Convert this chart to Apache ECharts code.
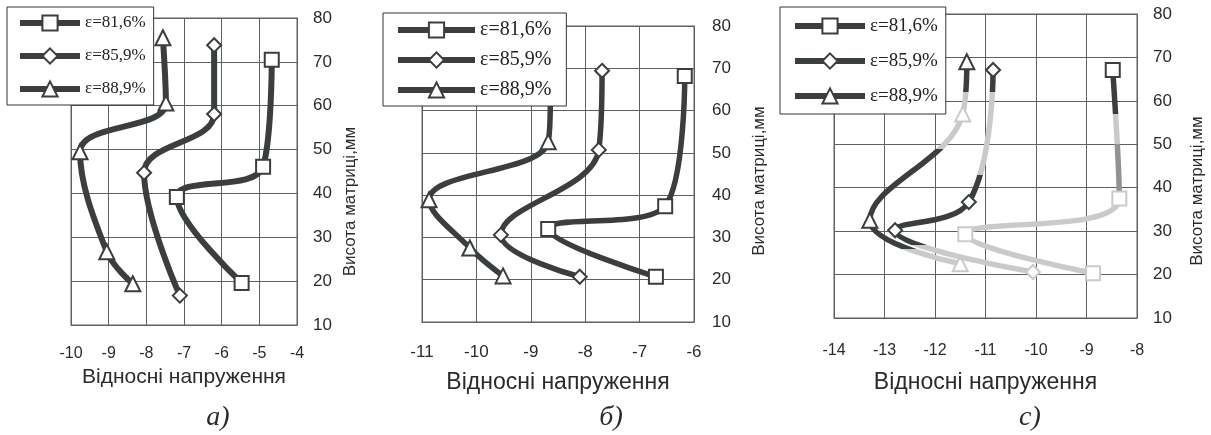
<!DOCTYPE html>
<html>
<head>
<meta charset="utf-8">
<title>Відносні напруження</title>
<script src="https://cdn.jsdelivr.net/npm/echarts@6/dist/echarts.min.js"></script>
<style>
  html, body { margin: 0; padding: 0; background: #ffffff; }
  #chart { width: 1211px; height: 435px; }
</style>
</head>
<body>
<div id="chart"></div>
<script>
// Legend names (reduction ratio)
const seriesNames = ['ε=81,6%', 'ε=85,9%', 'ε=88,9%'];

// Axis ranges: relative stress (x) per panel, die height in mm (y)
const xRangeA = [-10, -4];
const xRangeB = [-11, -6];
const xRangeC = [-14, -8];
const heightRange = [10, 80];

// Panel а) — [relative stress, height mm]
const aSquare   = [[-4.67, 70.5], [-4.90, 46.1], [-7.19, 39.2], [-5.47, 19.6]];
const aDiamond  = [[-6.20, 73.8], [-6.20, 58.1], [-8.06, 44.7], [-7.11, 16.7]];
const aTriangle = [[-7.56, 75.5], [-7.48, 60.6], [-9.76, 49.5], [-9.05, 26.7], [-8.36, 19.4]];

// Panel б)
const bSquare   = [[-6.17, 68.2], [-6.53, 37.4], [-8.68, 32.0], [-6.70, 20.7]];
const bDiamond  = [[-7.69, 69.4], [-7.75, 50.7], [-9.55, 30.6], [-8.10, 20.7]];
const bTriangle = [[-8.64, 64.0], [-8.68, 52.6], [-10.87, 38.9], [-10.12, 27.5], [-9.51, 20.9]];

// Panel с)
const cSquare   = [[-8.48, 67.1], [-8.35, 37.5], [-11.40, 29.3], [-8.87, 20.3]];
const cDiamond  = [[-10.85, 67.1], [-11.33, 36.7], [-12.79, 30.2], [-10.06, 20.6]];
const cTriangle = [[-11.37, 69.0], [-11.45, 57.0], [-13.29, 32.5], [-11.50, 22.5]];

const captions = ['а)', 'б)', 'с)'];
const xAxisTitle = 'Відносні напруження';
const yAxisTitle = 'Висота матриці,мм';

const INK = '#3a3f3b';
const FADED = '#c9cbc9';
const GRIDLINE = '#606060';
const SANS = "'Liberation Sans', Arial, sans-serif";
const SERIF = "'Liberation Serif', 'Times New Roman', serif";

const panels = [
  { grid: { left: 71, top: 18, width: 226, height: 307 }, xr: xRangeA,
    data: [aSquare, aDiamond, aTriangle], xSize: 16, xMargin: 21, xNameGap: 42, xNameSize: 21,
    yNameGap: 45, yNameShift: 60, lineW: 6 },
  { grid: { left: 422, top: 26, width: 272, height: 296 }, xr: xRangeB,
    data: [bSquare, bDiamond, bTriangle], xSize: 17, xMargin: 22, xNameGap: 49, xNameSize: 23,
    yNameGap: 57, yNameShift: 14, lineW: 5.5 },
  { grid: { left: 834, top: 14, width: 303, height: 304 }, xr: xRangeC,
    data: [cSquare, cDiamond, cTriangle], xSize: 16, xMargin: 25, xNameGap: 53, xNameSize: 23,
    yNameGap: 52, yNameShift: 50, lineW: 5.5 }
];

const symbols = ['emptyRect', 'emptyDiamond', 'emptyTriangle'];
const symbolSizes = [14, 14, 15];

const grids = [], xAxes = [], yAxes = [], series = [];

panels.forEach((p, i) => {
  grids.push(Object.assign({ show: true, borderColor: GRIDLINE, borderWidth: 1, backgroundColor: 'transparent' }, p.grid));
  xAxes.push({
    type: 'value', gridIndex: i, min: p.xr[0], max: p.xr[1], interval: 1,
    axisLine: { show: true, onZero: false, lineStyle: { color: GRIDLINE, width: 1 } },
    axisTick: { show: false },
    splitLine: { show: true, lineStyle: { color: GRIDLINE, width: 1 } },
    axisLabel: { color: '#2b2b2b', fontFamily: SANS, fontSize: p.xSize, margin: p.xMargin },
    name: xAxisTitle, nameLocation: 'middle', nameGap: p.xNameGap,
    nameTextStyle: { color: '#2b2b2b', fontFamily: SANS, fontSize: p.xNameSize }
  });
  yAxes.push({
    type: 'value', gridIndex: i, position: 'right', min: heightRange[0], max: heightRange[1], interval: 10,
    axisLine: { show: true, lineStyle: { color: GRIDLINE, width: 1 } },
    axisTick: { show: false },
    splitLine: { show: true, lineStyle: { color: GRIDLINE, width: 1 } },
    axisLabel: { color: '#2b2b2b', fontFamily: SANS, fontSize: 17, margin: i === 1 ? 18 : 16 },
    name: yAxisTitle, nameLocation: 'middle', nameGap: p.yNameGap, nameRotate: 90,
    nameTextStyle: { color: '#2b2b2b', fontFamily: SANS, fontSize: 17, padding: [0, p.yNameShift, 0, 0] }
  });
  p.data.forEach((d, k) => {
    series.push({
      type: 'line', name: seriesNames[k], xAxisIndex: i, yAxisIndex: i,
      data: d, smooth: 0.4,
      symbol: symbols[k], symbolSize: symbolSizes[k], showSymbol: true,
      color: INK,
      lineStyle: { width: p.lineW },
      itemStyle: { borderWidth: 2.2 },
      emphasis: { disabled: true },
      z: 3 + (2 - k)
    });
  });
});

// Faded stretches of the traces in panel с)
const fadePieces = [
  [ { gt: 57, lte: 80, color: INK }, { gt: 50, lte: 57, color: FADED }, { gt: 38, lte: 50, color: '#8f948f' }, { gte: 0, lte: 38, color: FADED } ],
  [ { gt: 62, lte: 80, color: INK }, { gt: 43, lte: 62, color: FADED }, { gt: 26.8, lte: 43, color: INK }, { gte: 0, lte: 26.8, color: FADED } ],
  [ { gt: 62, lte: 80, color: INK }, { gt: 49, lte: 62, color: FADED }, { gt: 26, lte: 49, color: INK }, { gte: 0, lte: 26, color: FADED } ]
];
const visualMaps = fadePieces.map((pieces, k) => ({
  type: 'piecewise', show: false, seriesIndex: 6 + k, dimension: 1, pieces: pieces
}));

const legendBase = {
  orient: 'vertical', data: seriesNames, selectedMode: false,
  backgroundColor: '#ffffff', borderColor: '#333', borderWidth: 1, borderRadius: 0,
  itemStyle: { borderWidth: 2 }
};
const legends = [
  Object.assign({}, legendBase, { left: 7, top: 7, padding: [6, 8, 6, 10], itemGap: 13, itemWidth: 60, itemHeight: 19,
    lineStyle: { width: 6 },
    textStyle: { color: '#222', fontFamily: SERIF, fontSize: 17, lineHeight: 20 } }),
  Object.assign({}, legendBase, { left: 383, top: 13, padding: [6, 15, 5, 12], itemGap: 8, itemWidth: 77, itemHeight: 19,
    lineStyle: { width: 6 },
    textStyle: { color: '#222', fontFamily: SERIF, fontSize: 20, lineHeight: 22 } }),
  Object.assign({}, legendBase, { left: 780, top: 7, padding: [8, 8, 7, 12], itemGap: 13, itemWidth: 70, itemHeight: 19,
    lineStyle: { width: 6 },
    textStyle: { color: '#222', fontFamily: SERIF, fontSize: 19, lineHeight: 22 } })
];

const captionX = [218, 611, 1030];
const graphic = captions.map((t, i) => ({
  type: 'text', x: captionX[i], y: 418,
  style: { text: t, fill: '#2b2b2b', font: 'italic 28px ' + SERIF, align: 'center', verticalAlign: 'middle' }
}));

const chart = echarts.init(document.getElementById('chart'), null, { renderer: 'canvas' });
chart.setOption({
  animation: false,
  backgroundColor: '#ffffff',
  grid: grids, xAxis: xAxes, yAxis: yAxes,
  legend: legends, visualMap: visualMaps,
  graphic: graphic,
  series: series
});
</script>
</body>
</html>
